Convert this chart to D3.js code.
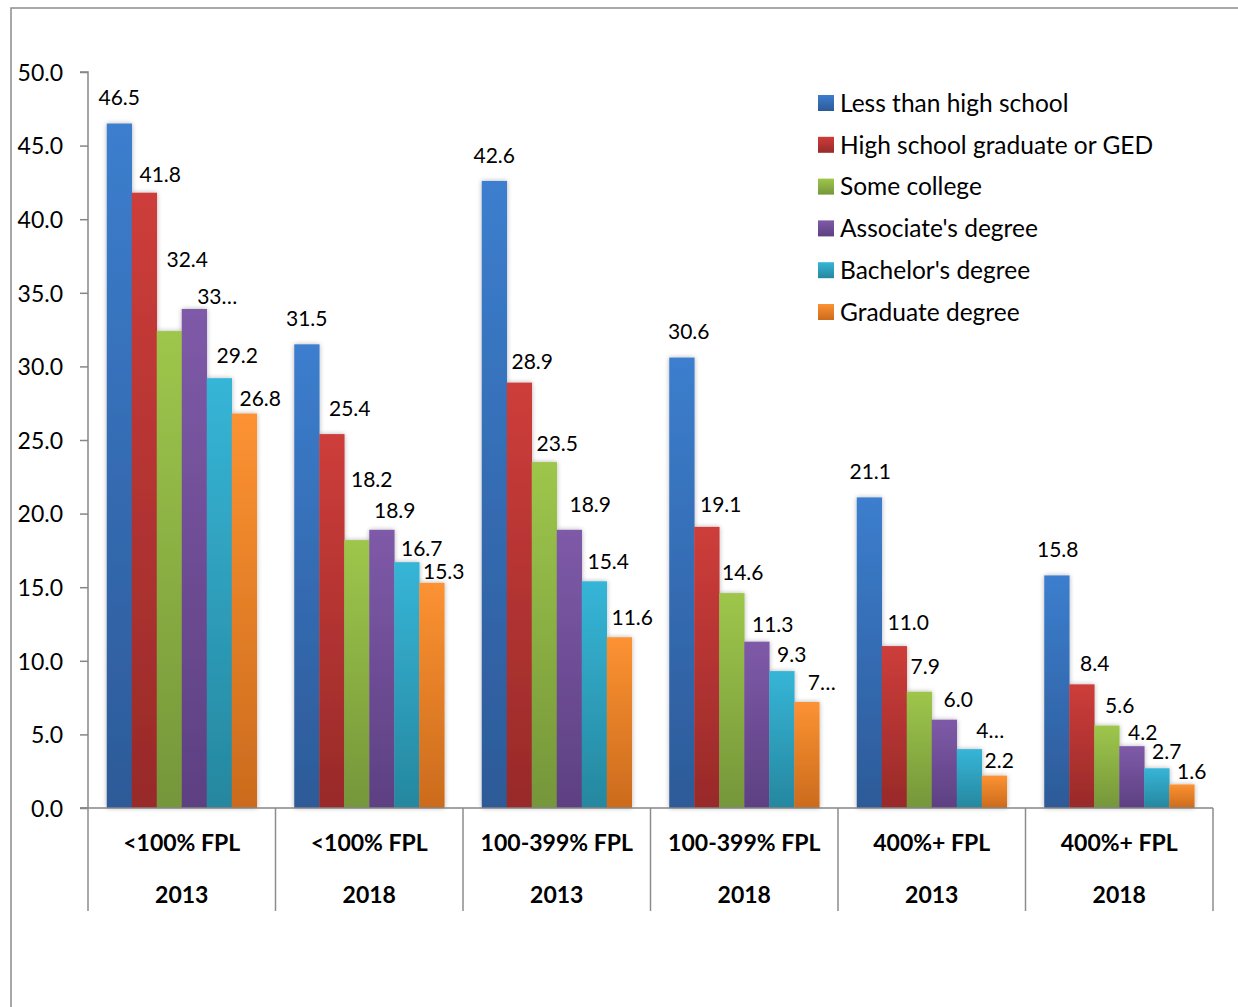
<!DOCTYPE html>
<html><head><meta charset="utf-8">
<script src="https://cdn.jsdelivr.net/npm/d3@7/dist/d3.min.js"></script>
<style>body{margin:0;background:#fff;} svg{display:block;} text{font-family:Lato,"Open Sans",sans-serif;fill:#000;}</style>
</head><body><svg id="c" width="1238" height="1007"></svg>
<script>
const categories = [["<100% FPL","2013"],["<100% FPL","2018"],["100-399% FPL","2013"],["100-399% FPL","2018"],["400%+ FPL","2013"],["400%+ FPL","2018"]];
const seriesNames = ["Less than high school","High school graduate or GED","Some college","Associate's degree","Bachelor's degree","Graduate degree"];
const lessThanHS   = [46.5, 31.5, 42.6, 30.6, 21.1, 15.8];
const hsGraduate   = [41.8, 25.4, 28.9, 19.1, 11.0, 8.4];
const someCollege  = [32.4, 18.2, 23.5, 14.6, 7.9, 5.6];
const associates   = [33.9, 18.9, 18.9, 11.3, 6.0, 4.2];
const bachelors    = [29.2, 16.7, 15.4, 9.3, 4.0, 2.7];
const graduate     = [26.8, 15.3, 11.6, 7.2, 2.2, 1.6];
const seriesValues = [lessThanHS, hsGraduate, someCollege, associates, bachelors, graduate];
const yTicks = [0,5,10,15,20,25,30,35,40,45,50];
// labels shown truncated in the original chart: [series, category]
const truncatedLabels = [[3,0],[5,3],[4,4]];

// styling / layout
const colors = [["#3c7ece","#2d5a98"],["#cd3d3a","#982a29"],["#9ec64b","#75963a"],["#7e5aa8","#5d4082"],["#36b5d7","#26879f"],["#fc9232","#cb6b1d"]];
// label nudges (dx, dy) relative to bar top centre, per series per category
const labelNudge = [
 [[0,-26],[0,-26],[0,-25],[7,-26],[1,-26],[1,-26]],
 [[16,-18],[18,-26],[13,-21],[14,-22],[14,-24],[13,-21]],
 [[18,-72],[15,-61],[13,-19],[11,-21],[6,-25],[13,-20]],
 [[23,-13],[13,-19],[21,-25],[16,-17],[14,-20],[11,-14]],
 [[18,-23],[15,-14],[14,-20],[10,-17],[21,-19],[10,-17]],
 [[16,-15],[12,-11],[13,-20],[15,-20],[5,-15],[10,-13]]
];

const svg = d3.select("#c");
const M = {left:88, right:1213, top:72, bottom:808};
const y = d3.scaleLinear().domain([0,50]).range([M.bottom, M.top]);
const x0 = d3.scaleBand().domain(d3.range(categories.length)).range([M.left, M.right]).paddingInner(0.2).paddingOuter(0.1);
const x1 = d3.scaleBand().domain(d3.range(seriesNames.length)).range([0, x0.bandwidth()]);

const defs = svg.append("defs");
colors.forEach((c,i)=>{
  const g = defs.append("linearGradient").attr("id","g"+i).attr("x1",0).attr("y1",0).attr("x2",0).attr("y2",1);
  g.append("stop").attr("offset","0%").attr("stop-color",c[0]);
  g.append("stop").attr("offset","100%").attr("stop-color",c[1]);
});
const f = defs.append("filter").attr("id","sh").attr("x","-20%").attr("y","-5%").attr("width","140%").attr("height","110%");
f.append("feGaussianBlur").attr("in","SourceAlpha").attr("stdDeviation",2.5).attr("result","b");
f.append("feOffset").attr("in","b").attr("dx",0).attr("dy",0).attr("result","o");
f.append("feComponentTransfer").attr("in","o").attr("result","o2").append("feFuncA").attr("type","linear").attr("slope",0.3);
const fm = f.append("feMerge"); fm.append("feMergeNode").attr("in","o2"); fm.append("feMergeNode").attr("in","SourceGraphic");

// outer frame
svg.append("path").attr("d","M11,1007V8H1238").attr("fill","none").attr("stroke","#8c8c8c").attr("stroke-width",1.5);

// bars
const groups = svg.append("g").selectAll("g").data(categories).join("g")
  .attr("transform",(d,i)=>`translate(${x0(i)},0)`).attr("filter","url(#sh)");
groups.selectAll("rect").data((d,ci)=>seriesValues.map((s,si)=>({si,ci,v:s[ci]}))).join("rect")
  .attr("x",d=>x1(d.si)).attr("width",x1.bandwidth()+0.3)
  .attr("y",d=>y(d.v)).attr("height",d=>y(0)-y(d.v))
  .attr("fill",d=>`url(#g${d.si})`);

// y axis
const yAxis = d3.axisLeft(y).tickValues(yTicks).tickFormat(d3.format(".1f")).tickSize(8).tickPadding(17);
const ya = svg.append("g").attr("transform",`translate(${M.left},0)`).call(yAxis);
ya.select(".domain").attr("stroke","#868686").attr("stroke-width",1.5).attr("d",`M-8,${M.top}H0V${M.bottom}H-8`);
ya.selectAll(".tick line").attr("stroke","#868686").attr("stroke-width",1.5);
ya.selectAll(".tick text").style("font-size","23px").style("font-family","Lato").attr("fill","#000").attr("dy","0.36em");

// x axis
const xa = svg.append("g");
xa.append("line").attr("x1",M.left-8).attr("x2",M.right).attr("y1",M.bottom).attr("y2",M.bottom).attr("stroke","#868686").attr("stroke-width",1.5);
const bounds = d3.range(categories.length+1).map(i=> i<categories.length ? x0(i)-x0.step()*x0.paddingInner()/2 : x0(i-1)+x0.bandwidth()+x0.step()*x0.paddingInner()/2);
xa.selectAll("line.div").data(bounds).join("line").attr("class","div")
  .attr("x1",d=>d).attr("x2",d=>d).attr("y1",M.bottom).attr("y2",911).attr("stroke","#8c8c8c").attr("stroke-width",1.5);
categories.forEach((c,i)=>{
  const cx = x0(i)+x0.bandwidth()/2;
  xa.append("text").attr("x",cx).attr("y",843).attr("dy","0.36em").attr("text-anchor","middle").style("font-size","23px").style("font-weight","bold").text(c[0]);
  xa.append("text").attr("x",cx).attr("y",895).attr("dy","0.36em").attr("text-anchor","middle").style("font-size","23px").style("font-weight","bold").text(c[1]);
});

// data labels
const isTrunc = (si,ci)=>truncatedLabels.some(t=>t[0]===si&&t[1]===ci);
const lab = svg.append("g");
seriesValues.forEach((s,si)=>s.forEach((v,ci)=>{
  const cx = x0(ci)+x1(si)+x1.bandwidth()/2 + labelNudge[si][ci][0];
  const cy = y(v) + labelNudge[si][ci][1];
  const t = isTrunc(si,ci) ? Math.floor(v)+"…" : d3.format(".1f")(v);
  lab.append("text").attr("x",cx).attr("y",cy).attr("dy","0.36em").attr("text-anchor","middle").style("font-size","21px").text(t);
}));

// legend
const lg = svg.append("g").attr("transform","translate(818,103)");
seriesNames.forEach((n,i)=>{
  const r = lg.append("g").attr("transform",`translate(0,${i*41.8})`);
  r.append("rect").attr("x",0).attr("y",-8).attr("width",16).attr("height",16).attr("fill",`url(#g${i})`);
  r.append("text").attr("x",22).attr("y",0).attr("dy","0.36em").style("font-size","24.5px").text(n);
});
</script></body></html>
